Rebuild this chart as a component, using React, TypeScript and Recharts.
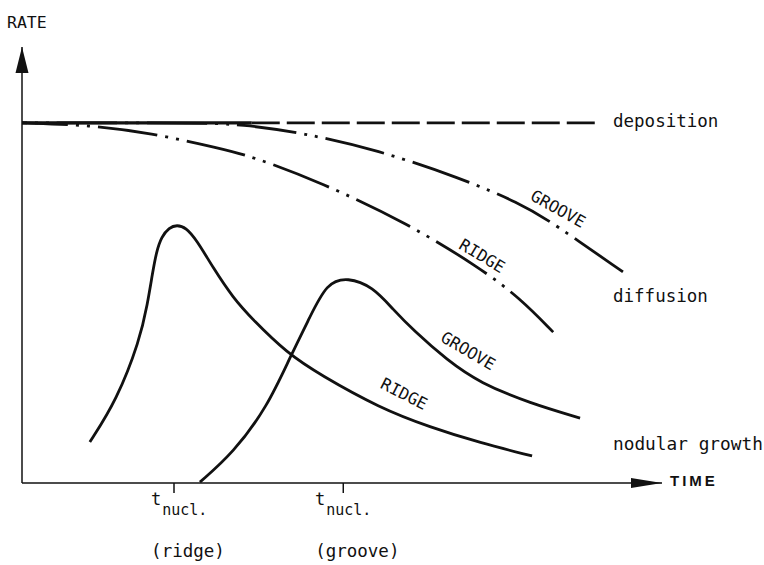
import { LineChart, Line, XAxis, YAxis, ReferenceDot, Customized } from 'recharts'

// time / rate (time 0..100, rate 0..100)
const depSolidT = [0, 35.9]
const depSolidR = [82.6, 82.6]
const depDashT = [35.9, 89.5]
const depDashR = [82.6, 82.6]

const diffRidgeT = [0, 10.6, 20, 30.9, 36.1, 46.6, 60.2, 71.6, 77.8, 83.0]
const diffRidgeR = [82.6, 82.1, 80.3, 76.8, 74.8, 69.0, 59.6, 49.3, 42.4, 34.6]

const diffGrooveT = [0, 27.8, 34.1, 43.9, 55.5, 68.4, 77.8, 83.0, 93.9]
const diffGrooveR = [82.6, 82.6, 82.3, 80.3, 76.4, 70.0, 64.2, 59.6, 48.4]

const nodRidgeT = [10.6, 14.8, 18.4, 19.6, 20.4, 21.0, 21.8, 23.0, 24.2, 25.6, 27.3, 29.8, 33.0, 36.1, 41.4, 46.6, 55.9, 63.75, 71.6, 79.7]
const nodRidgeR = [9.4, 19.0, 32.8, 41.0, 48.2, 53.0, 56.5, 58.6, 59.2, 58.6, 55.7, 49.5, 42.4, 37.4, 29.8, 24.8, 17.2, 12.8, 9.2, 6.2]

const nodGrooveT = [27.8, 33.0, 38.3, 41.9, 45.0, 47.6, 50.9, 54.8, 58.0, 61.1, 66.4, 71.6, 79.4, 87.2]
const nodGrooveR = [0.2, 6.9, 17.4, 28.9, 38.1, 45.9, 47.2, 45.0, 39.8, 35.1, 28.2, 22.9, 18.3, 14.9]

const nuclTimes = [23.75, 50.2]
const nuclLabels = ['(ridge)', '(groove)']

const zip = (t: number[], r: number[]) => t.map((v, i) => ({ t: v, r: r[i] }))

const MONO = 'DejaVu Sans Mono'
const INK = '#111'

function NuclTick(props: any) {
  const { x, y, payload } = props
  const i = nuclTimes.indexOf(payload.value)
  const label = nuclLabels[i] ?? ''
  const cx = x + 14
  const left = cx - label.length * 5.3
  return (
    <g fontFamily={MONO} fill={INK}>
      <text x={left} y={y + 12} fontSize={17}>
        t<tspan dx={1} dy={10} fontSize={15}>nucl.</tspan>
      </text>
      <text x={cx} y={y + 64} fontSize={17.5} textAnchor="middle">{label}</text>
    </g>
  )
}

const ArrowUp = (p: any) => (
  <polygon points={`${p.cx},${p.cy} ${p.cx - 6.5},${p.cy + 26} ${p.cx + 6.5},${p.cy + 26}`} fill={INK} />
)
const ArrowRight = (p: any) => (
  <polygon points={`${p.cx},${p.cy} ${p.cx - 31},${p.cy - 5} ${p.cx - 31},${p.cy + 5}`} fill={INK} />
)

function CurveLabel({ x, y, a, text }: { x: number; y: number; a: number; text: string }) {
  return (
    <text x={x} y={y} fontSize={16.5} textAnchor="middle" dominantBaseline="central"
      transform={`rotate(${a} ${x} ${y})`}>{text}</text>
  )
}

const Annotations = () => (
  <g fontFamily={MONO} fill={INK}>
    <text x={7} y={28} fontSize={16.5}>RATE</text>
    <text x={613} y={127} fontSize={17.5}>deposition</text>
    <text x={613} y={302} fontSize={17.5}>diffusion</text>
    <text x={613} y={450} fontSize={17.8}>nodular growth</text>
    <text x={670} y={486} fontFamily="Liberation Sans" fontWeight="bold" fontSize={15} letterSpacing={3}>TIME</text>
    <CurveLabel x={558} y={209} a={29} text="GROOVE" />
    <CurveLabel x={482} y={256} a={31} text="RIDGE" />
    <CurveLabel x={468} y={351} a={30} text="GROOVE" />
    <CurveLabel x={404} y={394} a={27} text="RIDGE" />
  </g>
)

export default function App() {
  const line = { type: 'basis' as const, dataKey: 'r', stroke: INK, strokeWidth: 2.8, dot: false, isAnimationActive: false }
  return (
    <div style={{ position: 'absolute', left: 0, top: 0, background: '#fff' }}>
      <LineChart width={764} height={565} margin={{ top: 47, right: 102, bottom: 0, left: 0 }}>
        <XAxis
          type="number"
          dataKey="t"
          domain={[0, 100]}
          allowDataOverflow
          ticks={nuclTimes}
          tickSize={10}
          tickMargin={0}
          height={82}
          axisLine={{ stroke: INK, strokeWidth: 1.5 }}
          tickLine={{ stroke: INK, strokeWidth: 1.5 }}
          tick={<NuclTick />}
        />
        <YAxis
          type="number"
          domain={[0, 100]}
          allowDataOverflow
          width={22}
          tick={false}
          tickLine={false}
          axisLine={{ stroke: INK, strokeWidth: 1.5 }}
        />
        <Line {...line} type="linear" data={zip(depSolidT, depSolidR)} strokeWidth={3.2} />
        <Line {...line} type="linear" data={zip(depDashT, depDashR)} strokeDasharray="28 7" />
        <Line {...line} data={zip(diffRidgeT, diffRidgeR)} strokeDasharray="60 8 3 8 3 8" strokeDashoffset={14} />
        <Line {...line} data={zip(diffGrooveT, diffGrooveR)} strokeDasharray="60 8 3 8 3 8" strokeDashoffset={55} />
        <Line {...line} data={zip(nodRidgeT, nodRidgeR)} />
        <Line {...line} data={zip(nodGrooveT, nodGrooveR)} />
        <ReferenceDot x={0} y={100} r={0} ifOverflow="visible" shape={<ArrowUp />} />
        <ReferenceDot x={100} y={0} r={0} ifOverflow="visible" shape={<ArrowRight />} />
        <Customized component={Annotations} />
      </LineChart>
    </div>
  )
}
